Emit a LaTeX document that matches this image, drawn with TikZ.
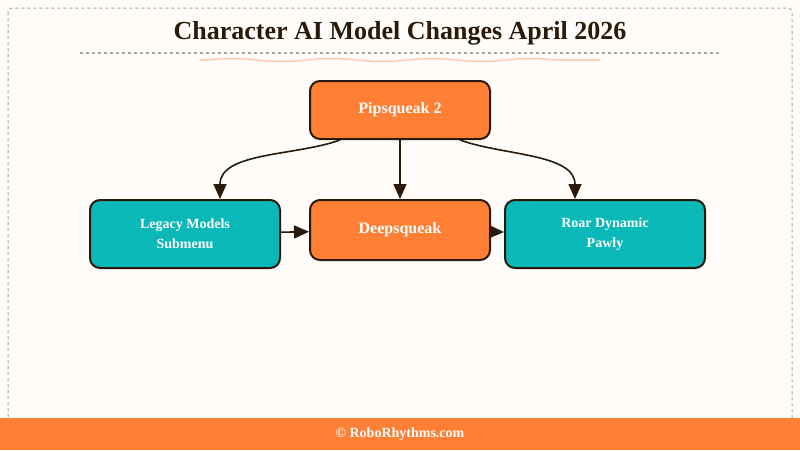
\documentclass[tikz,border=0pt]{standalone}
\usepackage{fontspec}
\setmainfont{Liberation Serif}
\usetikzlibrary{positioning,arrows.meta,decorations.pathmorphing}
\definecolor{bgpaper}{HTML}{FFFCFA}
\definecolor{ink}{HTML}{2B1A0A}
\definecolor{orangebox}{HTML}{FF7F35}
\definecolor{tealbox}{HTML}{0AB8B8}
\begin{document}
\begin{tikzpicture}[x=1pt,y=-1pt,>={Triangle[length=15pt,width=13pt]}]
% --- Layout & Styles --------------------------------------
\tikzset{
  model/.style={draw=ink,line width=2pt,rounded corners=10pt,text=white,
    font=\bfseries\fontsize{16}{20}\selectfont,align=center,minimum height=58pt},
  hot model/.style={model,fill=orangebox,minimum width=180pt},
  cool model/.style={model,fill=tealbox,minimum width=190pt,minimum height=68pt,
    font=\bfseries\fontsize{14}{20}\selectfont},
  link/.style={->,draw=ink,line width=1.6pt}
}
\fill[bgpaper] (0,0) rectangle (800,450);
\useasboundingbox (0,0) rectangle (800,450);
\draw[gray!70,dashed,line width=1pt,rounded corners=4pt] (8,8) rectangle (792,440);
\fill[orangebox] (0,418) rectangle (800,450);
% --- Title ------------------------------------------------
\node (title) at (400,33) {\bfseries\fontsize{26}{30}\selectfont\color{ink}Character AI Model Changes April 2026};
\draw[gray!70,dashed,line width=1.2pt] (80,53) -- (720,53);
\draw[orangebox!40,line width=1.5pt,decorate,decoration={snake,amplitude=1.5pt,segment length=100pt}] (200,60) -- (600,60);
% --- Nodes ------------------------------------------------
\node (pip) [hot model] at (400,110) {Pipsqueak 2};
\node (deep) [hot model,minimum height=60pt] at (400,230) {Deepsqueak};
\node (legacy) [cool model] at (185,234) {Legacy Models\\Submenu};
\node (roar) [cool model,minimum width=200pt] at (605,234) {Roar Dynamic\\Pawly};
% --- Edges ------------------------------------------------
\coordinate (p1) at ([xshift=-60pt]pip.south);
\coordinate (p2) at ([xshift=60pt]pip.south);
\draw[link] (p1) to[out=-160,in=90,looseness=0.9] (legacy.north -| 220,0);
\draw[link] (p2) to[out=-20,in=90,looseness=0.9] (roar.north -| 575,0);
\draw[link] (pip) -- (deep);
\draw[link] (legacy) -- (deep);
\draw[link] (deep) -- (roar);
% --- Footer -----------------------------------------------
\node (footer) at (400,434) {\bfseries\fontsize{14}{16}\selectfont\color{white}© RoboRhythms.com};
\end{tikzpicture}
\end{document}
